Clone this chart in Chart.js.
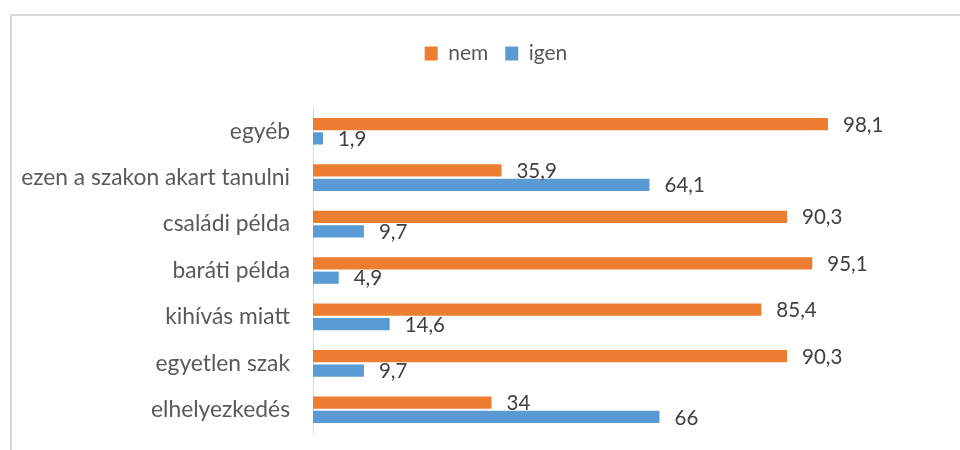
<!DOCTYPE html>
<html><head><meta charset="utf-8">
<script src="https://cdn.jsdelivr.net/npm/chart.js@4"></script>
<style>
html,body{margin:0;padding:0;background:#fff;}
#wrap{position:relative;width:960px;height:450px;}
#frame{position:absolute;left:10px;top:14px;width:1000px;height:500px;border-top:2px solid #d9d9d9;border-left:2px solid #d9d9d9;box-sizing:border-box;}
canvas{position:absolute;left:0;top:0;}
</style></head>
<body>
<div id="wrap"><div id="frame"></div><canvas id="c" width="960" height="450"></canvas></div>
<script>
const categories = ["egyéb","ezen a szakon akart tanulni","családi példa","baráti példa","kihívás miatt","egyetlen szak","elhelyezkedés"];
const nemValues  = [98.1, 35.9, 90.3, 95.1, 85.4, 90.3, 34];
const igenValues = [1.9, 64.1, 9.7, 4.9, 14.6, 9.7, 66];
const seriesNames = ["nem","igen"];

const FONT = "Lato, 'Liberation Sans', sans-serif";

const labelPlugin = {
  id:'valueLabels',
  afterDatasetsDraw(chart){
    const ctx = chart.ctx;
    ctx.save();
    ctx.font = "20.5px " + FONT;
    ctx.fillStyle = "#404040";
    ctx.textBaseline = "middle";
    ctx.textAlign = "left";
    chart.data.datasets.forEach((ds,i)=>{
      const meta = chart.getDatasetMeta(i);
      meta.data.forEach((bar,j)=>{
        const txt = String(ds.data[j]).replace('.',',');
        ctx.fillText(txt, bar.x + 15, bar.y + 1);
      });
    });
    ctx.restore();
  }
};

const legendPad = {
  id:'legendPad',
  beforeInit(chart){
    const lg = chart.legend;
    const orig = lg.fit;
    lg.fit = function(){ orig.call(this); this.height += 34; };
    const origAdj = lg.adjustHitBoxes;
    lg.adjustHitBoxes = function(){ this.left = 32; this.right = 960; origAdj.call(this); };
  }
};

new Chart(document.getElementById('c'), {
  type:'bar',
  data:{
    labels: categories,
    datasets:[
      {label:seriesNames[0], data:nemValues, backgroundColor:'#ED7D31', categoryPercentage:0.62, barPercentage:0.85},
      {label:seriesNames[1], data:igenValues, backgroundColor:'#5B9BD5', categoryPercentage:0.62, barPercentage:0.85}
    ]
  },
  options:{
    indexAxis:'y',
    responsive:false,
    animation:false,
    layout:{padding:{top:26,right:122,bottom:17,left:0}},
    plugins:{
      legend:{
        position:'top',
        labels:{font:{family:FONT,size:21},color:'#595959',boxWidth:13,boxHeight:14,padding:17}
      },
      tooltip:{enabled:false}
    },
    scales:{
      x:{min:0,max:100,display:false,grid:{display:false}},
      y:{
        grid:{display:false,drawTicks:false},
        border:{display:true,color:'#d9d9d9',width:1},
        ticks:{font:{family:FONT,size:22.8},color:'#595959',padding:23},
        afterFit(scale){ scale.width = 313; scale.paddingTop = 0; scale.paddingBottom = 0; }
      }
    }
  },
  plugins:[labelPlugin, legendPad]
});
</script>
</body></html>
